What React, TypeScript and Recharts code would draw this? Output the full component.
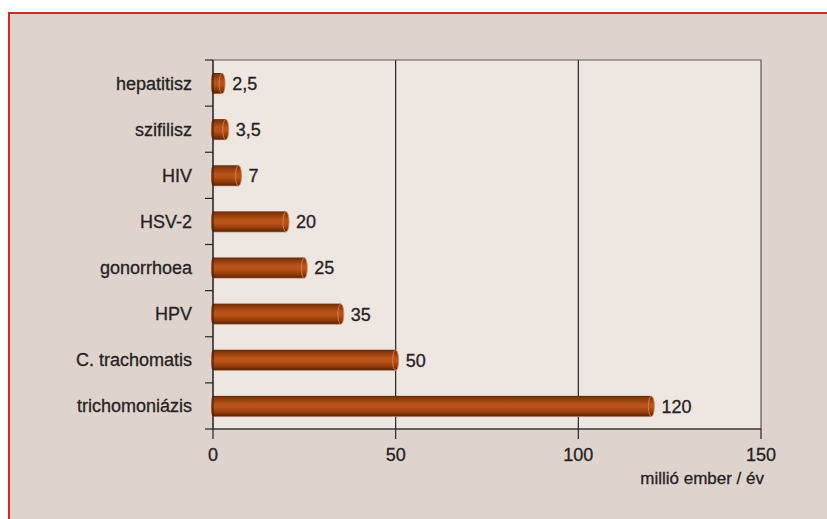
import React from 'react';
import { BarChart, Bar, XAxis, YAxis, CartesianGrid, ReferenceArea, LabelList } from 'recharts';

const categories = ['hepatitisz', 'szifilisz', 'HIV', 'HSV-2', 'gonorrhoea', 'HPV', 'C. trachomatis', 'trichomoniázis'];
const values = [2.5, 3.5, 7, 20, 25, 35, 50, 120];
const xTicks = [0, 50, 100, 150];
const gridValues = [50, 100];
const axisTitle = 'millió ember / év';

const data = categories.map((name, i) => ({ name, value: values[i] }));

const FONT = '"Liberation Sans", Arial, Helvetica, sans-serif';
const TEXT = '#262223';
const AXIS = '#2a2626';
const OUTER_BG = '#dfd4cd';
const PLOT_BG = '#ede6e1';
const FS = 18;
const TXT_STROKE = 0.3;

const fmt = (v: any) => String(v).replace('.', ',');

function CylinderBar(props: any) {
  const { x, y, width, height } = props;
  if (x == null || !height) return null;
  const cy = y + height / 2;
  const ry = height / 2;
  const rx = 3;
  return (
    <g>
      <ellipse cx={x} cy={cy} rx={rx - 1} ry={ry} fill="url(#barGrad)" />
      <rect x={x} y={y} width={Math.max(width, 0)} height={height} fill="url(#barGrad)" />
      <ellipse cx={x + width} cy={cy} rx={rx} ry={ry - 0.3} fill="url(#barGrad)" stroke="#dc8d58" strokeWidth={0.8} />
    </g>
  );
}

function CategoryTick(props: any) {
  const { x, y, payload, index, visibleTicksCount, height } = props;
  const axisX = x + 8 + 13;
  const step = height && visibleTicksCount ? height / visibleTicksCount : 0;
  return (
    <g>
      {step > 0 && (
        <line x1={axisX - 8} x2={axisX} y1={y - step / 2} y2={y - step / 2} stroke={AXIS} strokeWidth={1.2} />
      )}
      {step > 0 && index === visibleTicksCount - 1 && (
        <line x1={axisX - 8} x2={axisX} y1={y + step / 2} y2={y + step / 2} stroke={AXIS} strokeWidth={1.2} />
      )}
      <text
        x={x}
        y={y}
        dy="0.36em"
        textAnchor="end"
        fill={TEXT}
        stroke={TEXT}
        strokeWidth={TXT_STROKE}
        fontSize={FS}
        fontFamily={FONT}
      >
        {payload.value}
      </text>
    </g>
  );
}

function ValueTick(props: any) {
  const { x, y, payload } = props;
  return (
    <text
      x={x}
      y={y}
      dy="0.71em"
      textAnchor="middle"
      fill={TEXT}
      stroke={TEXT}
      strokeWidth={TXT_STROKE}
      fontSize={FS}
      fontFamily={FONT}
    >
      {payload.value}
    </text>
  );
}

function AxisTitle(props: any) {
  const vb = props.viewBox || {};
  return (
    <text
      x={vb.x + vb.width + 3}
      y={vb.y + 55}
      textAnchor="end"
      fill={TEXT}
      stroke={TEXT}
      strokeWidth={TXT_STROKE}
      fontSize={17}
      fontFamily={FONT}
    >
      {axisTitle}
    </text>
  );
}

export default function App() {
  return (
    <div style={{ position: 'absolute', left: 0, top: 0, width: 827, height: 519, overflow: 'hidden', background: '#ffffff' }}>
      <div
        style={{
          position: 'absolute',
          left: 8,
          top: 12,
          width: 819,
          height: 507,
          boxSizing: 'border-box',
          background: OUTER_BG,
          borderLeft: '2px solid #d7262e',
          borderTop: '2px solid #d7262e',
        }}
      />
      <div style={{ position: 'absolute', left: 0, top: 0 }}>
        <BarChart
          width={827}
          height={519}
          data={data}
          layout="vertical"
          margin={{ top: 60, right: 66, bottom: 0, left: 0 }}
          barSize={21}
        >
          <defs>
            <linearGradient id="barGrad" x1="0" y1="0" x2="0" y2="1">
              <stop offset="0%" stopColor="#6a2a06" />
              <stop offset="14%" stopColor="#8e3b0b" />
              <stop offset="40%" stopColor="#b9531a" />
              <stop offset="55%" stopColor="#bb5317" />
              <stop offset="80%" stopColor="#8f3b0a" />
              <stop offset="94%" stopColor="#642504" />
              <stop offset="100%" stopColor="#b9896a" />
            </linearGradient>
          </defs>
          <CartesianGrid
            horizontal={false}
            vertical={true}
            verticalValues={gridValues}
            stroke={TEXT}
            strokeWidth={1.2}
            fill={PLOT_BG}
            fillOpacity={1}
          />
          <ReferenceArea
            x1={xTicks[0]}
            x2={xTicks[xTicks.length - 1]}
            fill="none"
            stroke="#5e5656"
            strokeWidth={1.2}
          />
          <XAxis
            type="number"
            domain={[xTicks[0], xTicks[xTicks.length - 1]]}
            ticks={xTicks}
            height={90}
            tickSize={10}
            tickMargin={9}
            axisLine={{ stroke: AXIS, strokeWidth: 1.2 }}
            tickLine={{ stroke: AXIS, strokeWidth: 1.2 }}
            tick={<ValueTick />}
            label={<AxisTitle />}
          />
          <YAxis
            type="category"
            dataKey="name"
            width={213}
            tickSize={8}
            tickMargin={13}
            tickLine={false}
            axisLine={{ stroke: AXIS, strokeWidth: 1.2 }}
            tick={<CategoryTick />}
            interval={0}
          />
          <Bar dataKey="value" shape={<CylinderBar />} isAnimationActive={false}>
            <LabelList
              dataKey="value"
              position="right"
              offset={10}
              formatter={fmt}
              fill={TEXT}
              stroke={TEXT}
              strokeWidth={TXT_STROKE}
              fontSize={FS}
              fontFamily={FONT}
            />
          </Bar>
        </BarChart>
      </div>
    </div>
  );
}
